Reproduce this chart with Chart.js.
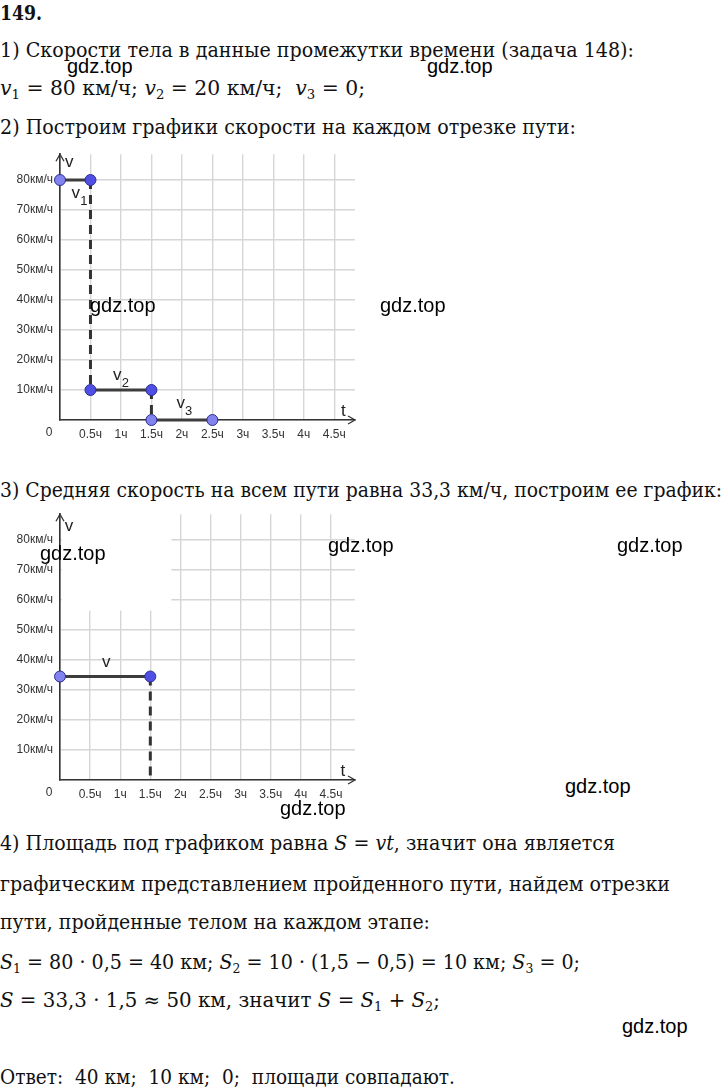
<!DOCTYPE html>
<html><head><meta charset="utf-8">
<script src="https://cdn.jsdelivr.net/npm/chart.js@4.4.0/dist/chart.umd.min.js"></script>
<style>
html,body{margin:0;padding:0;background:#fff;width:725px;height:1089px;overflow:hidden;position:relative;}
.t{position:absolute;left:0;white-space:nowrap;font-family:'DejaVu Serif',serif;font-size:20px;line-height:24px;color:#111;transform-origin:0 50%;}
.b{font-weight:bold}
.wm{position:absolute;font-family:'Liberation Sans',Arial,sans-serif;font-size:20px;line-height:22px;color:#000;white-space:nowrap;}
canvas{position:absolute;left:0;}
i{font-style:italic}
sub{font-size:65%;vertical-align:-0.3em;line-height:0}
</style></head><body>
<div class="t b" data-w="42" data-cy="13">149.</div>
<div class="t" data-w="634" data-cy="50">1) Скорости тела в данные промежутки времени (задача 148):</div>
<div class="t" data-w="365" data-cy="88"><i>v</i><sub>1</sub> = 80 км/ч; <i>v</i><sub>2</sub> = 20 км/ч;&nbsp; <i>v</i><sub>3</sub> = 0;</div>
<div class="t" data-w="576" data-cy="127">2) Построим графики скорости на каждом отрезке пути:</div>
<div class="t" data-w="722" data-cy="490">3) Средняя скорость на всем пути равна 33,3 км/ч, построим ее график:</div>
<div class="t" data-w="615" data-cy="843">4) Площадь под графиком равна <i>S</i> = <i>vt</i>, значит она является</div>
<div class="t" data-w="670" data-cy="884">графическим представлением пройденного пути, найдем отрезки</div>
<div class="t" data-w="430" data-cy="922">пути, пройденные телом на каждом этапе:</div>
<div class="t" data-w="580" data-cy="962"><i>S</i><sub>1</sub> = 80 · 0,5 = 40 км; <i>S</i><sub>2</sub> = 10 · (1,5 − 0,5) = 10 км; <i>S</i><sub>3</sub> = 0;</div>
<div class="t" data-w="440" data-cy="1000"><i>S</i> = 33,3 · 1,5 ≈ 50 км, значит <i>S</i> = <i>S</i><sub>1</sub> + <i>S</i><sub>2</sub>;</div>
<div class="t" data-w="455" data-cy="1077">Ответ:&nbsp; 40 км;&nbsp; 10 км;&nbsp; 0;&nbsp; площади совпадают.</div>

<canvas id="c1" width="362" height="300" style="top:140px"></canvas>
<canvas id="c2" width="362" height="300" style="top:500px"></canvas>

<div class="wm" data-x="67" data-cy="66">gdz.top</div>
<div class="wm" data-x="427" data-cy="66">gdz.top</div>
<div class="wm" data-x="90" data-cy="305">gdz.top</div>
<div class="wm" data-x="380" data-cy="305">gdz.top</div>
<div class="wm" data-x="40" data-cy="553">gdz.top</div>
<div class="wm" data-x="328" data-cy="545">gdz.top</div>
<div class="wm" data-x="617" data-cy="545">gdz.top</div>
<div class="wm" data-x="565" data-cy="786">gdz.top</div>
<div class="wm" data-x="280" data-cy="808">gdz.top</div>
<div class="wm" data-x="622" data-cy="1026">gdz.top</div>

<script>
// ---- tick labels ----
const timeTickValues = [0, 0.5, 1, 1.5, 2, 2.5, 3, 3.5, 4, 4.5];
const timeTickLabels = ['', '0.5ч', '1ч', '1.5ч', '2ч', '2.5ч', '3ч', '3.5ч', '4ч', '4.5ч'];
const speedTickValues = [0, 10, 20, 30, 40, 50, 60, 70, 80];
const speedTickLabels = ['', '10км/ч', '20км/ч', '30км/ч', '40км/ч', '50км/ч', '60км/ч', '70км/ч', '80км/ч'];

// ---- chart 1 series ----
const v1Time = [0, 0.5];      const v1Speed = [80, 80];
const drop1Time = [0.5, 0.5]; const drop1Speed = [80, 10];
const v2Time = [0.5, 1.5];    const v2Speed = [10, 10];
const drop2Time = [1.5, 1.5]; const drop2Speed = [10, 0];
const v3Time = [1.5, 2.5];    const v3Speed = [0, 0];

// ---- chart 2 series ----
const avgTime = [0, 1.5];        const avgSpeed = [34.5, 34.5];
const avgDropTime = [1.5, 1.5];  const avgDropSpeed = [34.5, 0];

// text layout
document.querySelectorAll('.t').forEach(el => {
  const w = el.getBoundingClientRect().width;
  const target = +el.dataset.w;
  el.style.top = (+el.dataset.cy - 12) + 'px';
  el.style.transform = 'scaleX(' + (target / w) + ')';
});
document.querySelectorAll('.wm').forEach(el => {
  el.style.left = el.dataset.x + 'px';
  el.style.top = (+el.dataset.cy - 11) + 'px';
});

const LIGHT = '#8383ef', DARK = '#4f4fe6', PBORDER = '#2e2e8a';
const pts = (xs, ys) => xs.map((x, i) => ({x: x, y: ys[i]}));

function solid(xs, ys, colors) {
  return {data: pts(xs, ys), borderColor: '#3d3d3d', borderWidth: 3,
    pointRadius: 5.5, pointHoverRadius: 5.5, pointBackgroundColor: colors,
    pointBorderColor: PBORDER, pointBorderWidth: 1, clip: false, order: 1};
}
function dashed(xs, ys) {
  return {data: pts(xs, ys), borderColor: '#333', borderWidth: 3, borderDash: [9, 6],
    pointRadius: 0, clip: false, order: 2};
}

const annot = {
  id: 'annot',
  beforeDatasetsDraw(chart, args, opts) {
    const {ctx, chartArea: a, scales: {x, y}} = chart;
    if (opts.erase) {
      const e = opts.erase;
      const x0 = x.getPixelForValue(e.x0), x1 = x.getPixelForValue(e.x1), y0 = y.getPixelForValue(e.y0);
      ctx.save(); ctx.fillStyle = '#fff';
      ctx.fillRect(x0, a.top - 3, x1 - x0, y0 - a.top + 3);
      ctx.restore();
    }
  },
  afterDraw(chart, args, opts) {
    const {ctx, chartArea: a, scales: {x, y}} = chart;
    ctx.save();
    ctx.strokeStyle = '#333'; ctx.lineWidth = 1.3;
    ctx.beginPath();
    ctx.moveTo(a.left - 4, a.top + 7); ctx.lineTo(a.left, a.top); ctx.lineTo(a.left + 4, a.top + 7);
    ctx.moveTo(a.right - 7, a.bottom - 4); ctx.lineTo(a.right, a.bottom); ctx.lineTo(a.right - 7, a.bottom + 4);
    ctx.stroke();
    ctx.fillStyle = '#333';
    ctx.textAlign = 'center'; ctx.textBaseline = 'middle';
    ctx.font = '12px "Liberation Sans", Arial, sans-serif';
    ctx.fillText('0', a.left - 11, a.bottom + 13);
    ctx.fillStyle = '#222';
    (opts.labels || []).forEach(l => {
      const px = x.getPixelForValue(l.x), py = y.getPixelForValue(l.y);
      ctx.font = '17px "Liberation Sans", Arial, sans-serif';
      ctx.fillText(l.text, px, py);
      if (l.sub) {
        ctx.font = '13px "Liberation Sans", Arial, sans-serif';
        ctx.fillText(l.sub, px + 8, py + 8);
      }
    });
    ctx.restore();
  }
};

function makeChart(id, datasets, labels, erase, xmax) {
  return new Chart(document.getElementById(id), {
    type: 'line',
    data: {datasets: datasets},
    plugins: [annot],
    options: {
      responsive: false, animation: false, devicePixelRatio: 1,
      layout: {padding: {left: 0, top: 12, right: 7, bottom: 0}},
      plugins: {legend: {display: false}, tooltip: {enabled: false}, annot: {labels: labels, erase: erase}},
      scales: {
        x: {type: 'linear', min: 0, max: xmax,
          afterBuildTicks: s => { s.ticks = timeTickValues.map(v => ({value: v})); },
          afterFit: s => { s.height = 20; },
          grid: {color: '#d6d6d6', lineWidth: 1.4, drawTicks: false},
          border: {color: '#333', width: 1.6},
          ticks: {autoSkip: false, maxRotation: 0, padding: 7, color: '#333',
            font: {family: '"Liberation Sans", Arial, sans-serif', size: 12},
            callback: v => timeTickLabels[timeTickValues.indexOf(v)] ?? ''}},
        y: {type: 'linear', min: 0, max: 88.6,
          afterBuildTicks: s => { s.ticks = speedTickValues.map(v => ({value: v})); },
          afterFit: s => { s.width = 60; },
          grid: {color: '#d6d6d6', lineWidth: 1.4, drawTicks: false},
          border: {color: '#333', width: 1.6},
          ticks: {autoSkip: false, padding: 7, color: '#333',
            font: {family: '"Liberation Sans", Arial, sans-serif', size: 12},
            callback: v => speedTickLabels[speedTickValues.indexOf(v)] ?? ''}}
      }
    }
  });
}

makeChart('c1', [
  solid(v1Time, v1Speed, [LIGHT, DARK]),
  solid(v2Time, v2Speed, [DARK, DARK]),
  solid(v3Time, v3Speed, [LIGHT, LIGHT]),
  dashed(drop1Time, drop1Speed),
  dashed(drop2Time, drop2Speed)
], [
  {text: 'v', x: 0.15, y: 85.8},
  {text: 'v', sub: '1', x: 0.26, y: 75.5},
  {text: 'v', sub: '2', x: 0.94, y: 14.9},
  {text: 'v', sub: '3', x: 1.98, y: 5.6},
  {text: 't', x: 4.65, y: 2.8}
], null, 4.84);

makeChart('c2', [
  solid(avgTime, avgSpeed, [LIGHT, DARK]),
  dashed(avgDropTime, avgDropSpeed)
], [
  {text: 'v', x: 0.15, y: 84.4},
  {text: 'v', x: 0.77, y: 39.2},
  {text: 't', x: 4.7, y: 2.8}
], {x0: 0.03, x1: 1.85, y0: 56.5}, 4.9);
</script>
</body></html>
